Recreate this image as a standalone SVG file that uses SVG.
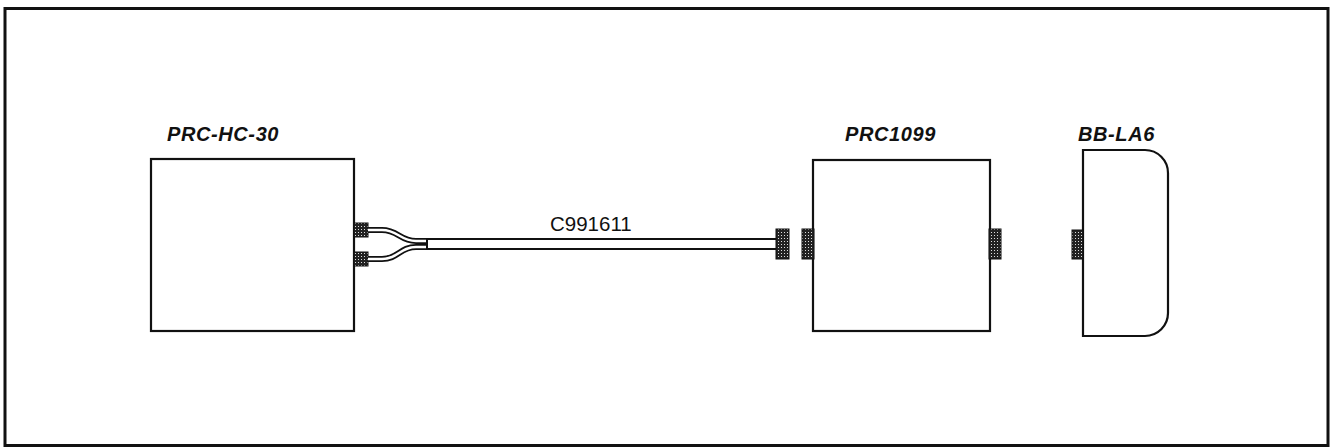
<svg xmlns="http://www.w3.org/2000/svg" width="1330" height="447" viewBox="0 0 1330 447">
<style>
.box{fill:#fff;stroke:#111;stroke-width:2.2}
.lbl{font-family:"Liberation Sans",Arial,sans-serif;font-weight:bold;font-style:italic;font-size:20px;letter-spacing:0.6px;fill:#111}
.cbl{font-family:"Liberation Sans",Arial,sans-serif;font-size:20.5px;fill:#111}
.conn{fill:url(#dots);stroke:#111;stroke-width:1}
.wireO{fill:none;stroke:#111;stroke-width:6}
.wireI{fill:none;stroke:#fff;stroke-width:2.5}
</style>
<defs>
<pattern id="dots" width="3" height="3" patternUnits="userSpaceOnUse">
<rect width="3" height="3" fill="#222"/>
<rect x="1" y="1" width="1" height="1" fill="#ddd"/>
</pattern>
</defs>
<rect id="frame" x="5" y="8.5" width="1323" height="437" fill="none" stroke="#111" stroke-width="3"/>
<g id="prc-hc-30">
<rect class="box" x="151" y="159" width="203" height="172"/>
<text class="lbl" x="167" y="141">PRC-HC-30</text>
<rect class="conn" x="354" y="223" width="14" height="14"/>
<rect class="conn" x="354" y="252" width="14" height="14"/>
</g>
<g id="prc1099">
<rect class="box" x="813" y="160" width="177" height="171"/>
<text class="lbl" x="845" y="141">PRC1099</text>
<rect class="conn" x="802" y="229" width="12" height="30"/>
<rect class="conn" x="989" y="229" width="12" height="30"/>
</g>
<g id="bb-la6">
<path class="box" d="M1083,150 H1145 A23,23 0 0 1 1168,173 V313 A23,23 0 0 1 1145,336 H1083 Z"/>
<text class="lbl" x="1078" y="141">BB-LA6</text>
<rect class="conn" x="1072" y="230" width="11" height="29"/>
</g>
<g id="connectors">
<g id="c991611">
<path class="wireO" d="M368,230 H382 C398,230 400,241 416,241 H428"/>
<path class="wireO" d="M368,259 H382 C398,259 400,247 416,247 H428"/>
<path class="wireI" d="M368,230 H382 C398,230 400,241 416,241 H428"/>
<path class="wireI" d="M368,259 H382 C398,259 400,247 416,247 H428"/>
<rect x="427" y="239" width="350" height="10" fill="#fff" stroke="#111" stroke-width="2"/>
<rect class="conn" x="776" y="229" width="13" height="30"/>
<text class="cbl" x="550" y="231">C991611</text>
</g>
</g>
</svg>
